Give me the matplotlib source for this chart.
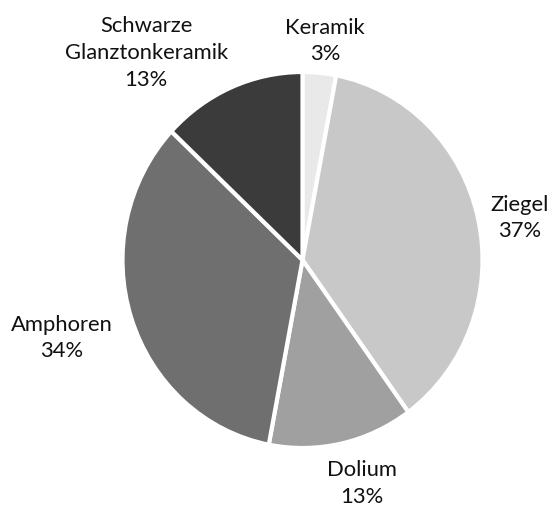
import matplotlib
matplotlib.use("Agg")
import matplotlib.pyplot as plt

categories = ["Keramik", "Ziegel", "Dolium", "Amphoren", "Schwarze\nGlanztonkeramik"]
shares = [3, 37, 13, 34, 13]
colors = ["#e9e9e9", "#c8c8c8", "#a0a0a0", "#6f6f6f", "#3b3b3b"]

# label block centres in data units (pie radius = 1)
label_pos = [(0.125, 1.165), (1.208, 0.223), (0.33, -1.19), (-1.336, -0.415), (-0.869, 1.10)]

plt.rcParams["font.family"] = ["Lato", "DejaVu Sans"]

fig = plt.figure(figsize=(5.5, 5.07), dpi=100)
ax = fig.add_axes([122.5 / 550, (507 - 448) / 507, 360 / 550, 376 / 507])

ax.pie(shares, colors=colors, startangle=90, counterclock=False,
       wedgeprops=dict(edgecolor="white", linewidth=3))
ax.set_aspect("auto")
ax.set_xlim(-1, 1)
ax.set_ylim(-1, 1)

for name, val, (x, y) in zip(categories, shares, label_pos):
    ax.text(x, y, f"{name}\n{val}%", ha="center", va="center", fontsize=15.8,
            color="#111111", linespacing=1.42, clip_on=False)

fig.savefig("out.png", dpi=100, facecolor="white")
